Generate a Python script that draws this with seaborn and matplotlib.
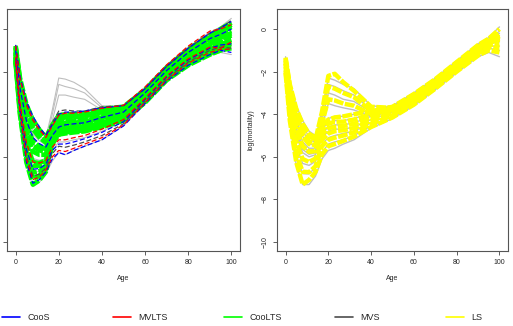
import pandas as pd
import seaborn as sns
import matplotlib.pyplot as plt
from matplotlib.lines import Line2D

ages = [0, 2, 5, 8, 11, 14, 17, 20, 23, 27, 32, 40, 50, 60, 70, 80, 90, 95, 100]

# left panel: observed log-mortality curves (grey)
left_obs = [
    [-0.75, -2.2, -3.4, -4.1, -4.6, -5.0, -4.6, -4.0, -3.95, -3.95, -3.9, -3.7, -3.6, -2.75, -1.7, -0.85, -0.15, 0.1, 0.5],
    [-0.92, -2.58, -4.0, -4.76, -5.12, -5.36, -4.8, -4.3, -4.2, -4.2, -4.15, -3.95, -3.8, -2.9, -1.85, -1.0, -0.3, -0.1, 0.2],
    [-1.09, -2.96, -4.6, -5.42, -5.64, -5.72, -5.0, -4.6, -4.5, -4.5, -4.45, -4.2, -3.95, -3.05, -2.0, -1.15, -0.5, -0.3, -0.1],
    [-1.26, -3.34, -5.2, -6.08, -6.16, -6.08, -5.3, -4.95, -4.9, -4.85, -4.75, -4.5, -4.15, -3.2, -2.15, -1.3, -0.7, -0.5, -0.4],
    [-1.43, -3.72, -5.8, -6.74, -6.68, -6.44, -5.7, -5.3, -5.3, -5.2, -5.1, -4.8, -4.35, -3.35, -2.3, -1.5, -0.95, -0.8, -0.8],
    [-1.6, -4.1, -6.4, -7.4, -7.2, -6.8, -6.2, -5.8, -5.9, -5.7, -5.5, -5.2, -4.55, -3.5, -2.45, -1.7, -1.25, -1.1, -1.2],
    [-0.79, -2.3, -3.55, -4.27, -4.73, -5.09, -3.8, -2.3, -2.35, -2.5, -2.8, -3.6, -3.65, -2.8, -1.75, -0.9, -0.2, 0.0, 0.3],
    [-0.88, -2.49, -3.85, -4.6, -4.99, -5.27, -4.0, -2.6, -2.7, -2.8, -3.0, -3.7, -3.7, -2.85, -1.8, -0.95, -0.25, -0.05, 0.1],
    [-0.96, -2.68, -4.15, -4.93, -5.25, -5.45, -4.3, -3.1, -3.1, -3.2, -3.3, -3.8, -3.75, -2.9, -1.85, -1.0, -0.3, -0.1, 0.0],
]

# left panel: fitted curves per method
coos_fit = [
    [-0.75, -2.2, -3.4, -4.1, -4.6, -5.0, -4.5, -4.0, -3.9, -3.9, -3.85, -3.7, -3.6, -2.8, -1.75, -0.9, -0.2, 0.05, 0.35],
    [-1.0, -2.77, -4.3, -5.09, -5.38, -5.54, -5.0, -4.6, -4.5, -4.45, -4.4, -4.15, -3.9, -3.0, -1.95, -1.1, -0.45, -0.25, 0.0],
    [-1.39, -3.63, -5.65, -6.58, -6.55, -6.35, -5.7, -5.4, -5.4, -5.3, -5.15, -4.85, -4.35, -3.3, -2.25, -1.45, -0.9, -0.75, -0.7],
    [-1.56, -4.0, -6.25, -7.24, -7.07, -6.71, -6.1, -5.8, -5.9, -5.7, -5.5, -5.2, -4.55, -3.5, -2.45, -1.7, -1.2, -1.0, -1.1],
]
mvlts_fit = [
    [-0.79, -2.3, -3.55, -4.27, -4.73, -5.09, -4.55, -4.05, -3.95, -3.95, -3.9, -3.72, -3.58, -2.72, -1.68, -0.8, -0.1, 0.0, 0.2],
    [-1.3, -3.44, -5.35, -6.25, -6.29, -6.17, -5.55, -5.2, -5.2, -5.1, -5.0, -4.7, -4.25, -3.25, -2.2, -1.4, -0.85, -0.9, -0.6],
    [-1.52, -3.91, -6.1, -7.07, -6.94, -6.62, -6.0, -5.7, -5.75, -5.6, -5.4, -5.1, -4.5, -3.45, -2.4, -1.6, -1.1, -0.95, -0.95],
]
coolts_fit = [
    [-0.79, -2.3, -3.55, -4.27, -4.73, -5.09, -4.5, -4.05, -4.0, -4.0, -3.95, -3.75, -3.65, -2.85, -1.8, -0.95, -0.3, 0.0, 0.3],
    [-0.85, -2.44, -3.76, -4.5, -4.91, -5.22, -4.6, -4.15, -4.1, -4.1, -4.05, -3.85, -3.7, -2.9, -1.85, -1.0, -0.4, -0.1, 0.2],
    [-0.9, -2.52, -3.95, -4.7, -5.08, -5.33, -4.65, -4.2, -4.15, -4.15, -4.1, -3.9, -3.75, -2.95, -1.9, -1.05, -0.45, -0.15, 0.1],
    [-1.05, -2.87, -4.45, -5.26, -5.51, -5.63, -4.8, -4.35, -4.3, -4.3, -4.25, -4.05, -3.85, -3.05, -2.0, -1.15, -0.6, -0.3, -0.1],
    [-1.11, -3.0, -4.66, -5.49, -5.69, -5.76, -4.9, -4.45, -4.4, -4.4, -4.35, -4.15, -3.9, -3.1, -2.05, -1.25, -0.7, -0.4, -0.2],
    [-1.18, -3.15, -4.9, -5.75, -5.9, -5.9, -4.95, -4.5, -4.45, -4.45, -4.4, -4.2, -3.95, -3.15, -2.1, -1.3, -0.75, -0.5, -0.3],
    [-1.3, -3.44, -5.35, -6.25, -6.29, -6.17, -5.1, -4.65, -4.6, -4.6, -4.55, -4.35, -4.05, -3.25, -2.2, -1.4, -0.9, -0.65, -0.5],
    [-1.35, -3.53, -5.5, -6.41, -6.42, -6.26, -5.15, -4.7, -4.65, -4.65, -4.6, -4.4, -4.1, -3.3, -2.25, -1.45, -0.95, -0.7, -0.6],
    [-1.43, -3.72, -5.8, -6.74, -6.68, -6.44, -5.25, -4.8, -4.75, -4.75, -4.7, -4.5, -4.2, -3.35, -2.3, -1.55, -1.05, -0.8, -0.7],
    [-1.5, -3.87, -6.04, -7.01, -6.89, -6.58, -5.35, -4.9, -4.85, -4.8, -4.75, -4.55, -4.25, -3.4, -2.35, -1.65, -1.15, -0.9, -0.8],
    [-1.56, -4.0, -6.25, -7.3, -7.1, -6.7, -5.4, -4.95, -4.9, -4.85, -4.8, -4.6, -4.3, -3.45, -2.4, -1.7, -1.2, -1.0, -0.9],
]
mvs_fit = [
    [-0.79, -2.3, -3.55, -4.27, -4.73, -5.0, -4.4, -3.85, -3.8, -3.85, -3.85, -3.65, -3.6, -2.8, -1.75, -0.9, -0.2, 0.05, 0.4],
    [-1.47, -3.82, -5.95, -6.91, -6.81, -6.53, -5.85, -5.5, -5.55, -5.45, -5.3, -5.0, -4.45, -3.4, -2.35, -1.55, -1.0, -0.85, -0.9],
]

# right panel: observed curves (grey) and LS fits (yellow)
right_obs = [
    [-1.3, -2.5, -3.6, -4.3, -4.8, -5.0, -4.5, -4.2, -4.1, -4.1, -4.0, -3.8, -3.6, -3.0, -2.3, -1.5, -0.7, -0.4, 0.1],
    [-1.44, -2.82, -4.06, -4.81, -5.21, -5.3, -4.7, -4.4, -4.3, -4.3, -4.2, -3.95, -3.7, -3.1, -2.4, -1.6, -0.8, -0.5, -0.2],
    [-1.56, -3.13, -4.49, -5.29, -5.6, -5.59, -4.9, -4.6, -4.5, -4.5, -4.4, -4.1, -3.8, -3.2, -2.5, -1.7, -0.9, -0.6, -0.4],
    [-1.7, -3.45, -5.0, -5.8, -6.0, -5.9, -5.1, -4.8, -4.7, -4.7, -4.6, -4.25, -3.9, -3.3, -2.55, -1.75, -1.0, -0.7, -0.6],
    [-1.84, -3.77, -5.48, -6.31, -6.4, -6.21, -5.4, -5.1, -5.0, -4.9, -4.8, -4.4, -4.0, -3.4, -2.65, -1.85, -1.1, -0.8, -0.8],
    [-1.96, -4.08, -5.92, -6.79, -6.8, -6.49, -5.8, -5.4, -5.3, -5.2, -5.0, -4.55, -4.1, -3.5, -2.75, -1.95, -1.2, -0.9, -1.0],
    [-2.1, -4.4, -6.4, -7.3, -7.3, -6.9, -6.1, -5.7, -5.6, -5.4, -5.2, -4.65, -4.2, -3.6, -2.85, -2.05, -1.3, -1.1, -1.3],
    [-1.38, -2.69, -3.88, -4.6, -5.04, -5.18, -3.8, -2.3, -2.4, -2.6, -2.8, -3.6, -3.7, -3.1, -2.4, -1.6, -0.8, -0.5, -0.1],
    [-1.5, -2.98, -4.3, -5.05, -5.4, -5.45, -4.0, -2.6, -2.7, -2.9, -3.1, -3.8, -3.75, -3.15, -2.45, -1.65, -0.85, -0.55, -0.3],
    [-1.62, -3.26, -4.72, -5.5, -5.76, -5.72, -4.3, -3.0, -3.1, -3.3, -3.4, -3.9, -3.8, -3.2, -2.5, -1.7, -0.9, -0.6, -0.4],
    [-1.66, -3.36, -4.86, -5.65, -5.88, -5.81, -4.6, -3.5, -3.6, -3.7, -3.8, -4.1, -3.85, -3.25, -2.5, -1.7, -0.95, -0.7, -0.5],
]
ls_fit = [
    [-1.34, -2.6, -3.74, -4.45, -4.92, -5.09, -4.55, -4.25, -4.15, -4.1, -4.0, -3.85, -3.65, -3.05, -2.35, -1.55, -0.75, -0.45, 0.0],
    [-1.46, -2.88, -4.16, -4.9, -5.28, -5.36, -4.75, -4.45, -4.35, -4.35, -4.25, -4.0, -3.75, -3.15, -2.45, -1.65, -0.85, -0.55, -0.3],
    [-1.62, -3.26, -4.72, -5.5, -5.76, -5.72, -4.95, -4.65, -4.6, -4.55, -4.45, -4.15, -3.85, -3.25, -2.5, -1.7, -0.95, -0.65, -0.5],
    [-1.78, -3.64, -5.28, -6.1, -6.24, -6.08, -5.2, -4.9, -4.8, -4.75, -4.65, -4.3, -3.95, -3.35, -2.6, -1.8, -1.05, -0.75, -0.7],
    [-1.94, -4.02, -5.84, -6.7, -6.72, -6.44, -5.5, -5.2, -5.1, -5.0, -4.85, -4.45, -4.05, -3.45, -2.7, -1.9, -1.15, -0.85, -0.9],
    [-2.06, -4.31, -6.26, -7.3, -7.08, -6.71, -5.9, -5.5, -5.4, -5.25, -5.05, -4.6, -4.15, -3.55, -2.8, -2.0, -1.25, -1.0, -1.1],
    [-1.38, -2.69, -3.88, -4.6, -5.04, -5.18, -3.9, -2.2, -2.1, -2.5, -2.9, -3.65, -3.7, -3.1, -2.4, -1.6, -0.8, -0.5, -0.2],
    [-1.5, -2.98, -4.3, -5.05, -5.4, -5.45, -4.1, -2.7, -2.8, -3.0, -3.2, -3.85, -3.75, -3.15, -2.45, -1.65, -0.85, -0.6, -0.35],
    [-1.62, -3.26, -4.72, -5.5, -5.76, -5.72, -4.45, -3.3, -3.35, -3.5, -3.6, -4.0, -3.8, -3.2, -2.5, -1.7, -0.9, -0.65, -0.45],
]

legend_names = ["CooS", "MVLTS", "CooLTS", "MVS", "LS"]
legend_colors = ["#0000FF", "#FF0000", "#00FF00", "#4D4D4D", "#FFFF00"]


def to_long(curves):
    rows = []
    for k, curve in enumerate(curves):
        for a, v in zip(ages, curve):
            rows.append({"curve": k, "age": a, "value": v})
    return pd.DataFrame(rows)


def draw(ax, curves, color, lw, dash=None):
    sns.lineplot(data=to_long(curves), x="age", y="value", units="curve",
                 estimator=None, color=color, linewidth=lw, ax=ax,
                 linestyle=(0, dash) if dash else "-", legend=False,
                 dash_capstyle="butt", solid_joinstyle="round")


sns.set_style("white")
plt.rcParams["font.family"] = ["Liberation Sans", "DejaVu Sans"]

fig = plt.figure(figsize=(5.13, 3.26), dpi=100)
ax1 = fig.add_axes([7 / 513, 75 / 326, 233 / 513, 242 / 326])
ax2 = fig.add_axes([277 / 513, 75 / 326, 231 / 513, 242 / 326])

# left panel: grey data, green fits underneath, other robust fits on top
draw(ax1, left_obs, "#BEBEBE", 0.8)
draw(ax1, coolts_fit, "#00FF00", 3.4, (2.2, 0.35))
draw(ax1, mvs_fit, "#4D4D4D", 0.9, (4, 2))
draw(ax1, coos_fit, "#0000FF", 0.9, (4, 2))
draw(ax1, mvlts_fit, "#FF0000", 0.9, (4, 2))

# right panel
draw(ax2, right_obs, "#BEBEBE", 1.0)
draw(ax2, ls_fit, "#FFFF00", 3.2, (2.2, 0.35))

for ax in (ax1, ax2):
    ax.set_xlim(-4, 104)
    ax.set_ylim(-10.42, 0.94)
    ax.set_xticks([0, 20, 40, 60, 80, 100])
    ax.set_yticks([0, -2, -4, -6, -8, -10])
    ax.tick_params(direction="out", length=3, width=0.6, color="#444444",
                   labelsize=5, pad=3, left=True, bottom=True)
    for s in ax.spines.values():
        s.set_color("#555555")
        s.set_linewidth(0.8)
    ax.set_xlabel("Age", fontsize=5, labelpad=6)

ax1.set_ylabel("")
ax1.set_yticklabels([])
ax2.set_ylabel("log(mortality)", fontsize=5, labelpad=5)
for lab in ax2.get_yticklabels():
    lab.set_rotation(90)
    lab.set_va("center")

# legend row at the bottom
for i, (name, col) in enumerate(zip(legend_names, legend_colors)):
    fig.legend(handles=[Line2D([], [], color=col, linewidth=1.2)], labels=[name],
               loc="center left", bbox_to_anchor=((2 + 111 * i) / 513, 8 / 326),
               frameon=False, fontsize=6.5, handlelength=2.0, handletextpad=0.8,
               borderpad=0, borderaxespad=0)

fig.savefig("out.png", dpi=100)
